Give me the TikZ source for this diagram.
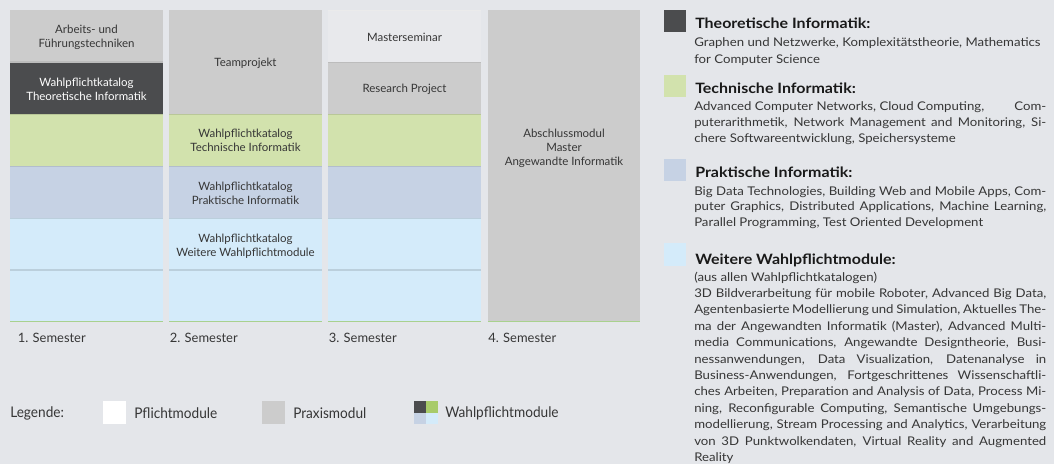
\documentclass[tikz,border=0pt]{standalone}
\usepackage{fontspec}
\setmainfont{Lato}
\newfontfamily\legfont[FakeStretch=0.93]{Lato}
\newfontfamily\bodyfont[FakeStretch=1.1]{Lato}
\newfontfamily\headfont[FakeStretch=1.12]{Lato}
\definecolor{bg}{HTML}{E4E6EA}
\definecolor{praxis}{HTML}{CCCCCC}
\definecolor{theo}{HTML}{4B4C4E}
\definecolor{tech}{HTML}{D2E2AD}
\definecolor{prak}{HTML}{C6D2E4}
\definecolor{weit}{HTML}{D4EBFA}
\definecolor{pflicht}{HTML}{E8E9EC}
\definecolor{txt}{HTML}{363636}
\definecolor{basegreen}{HTML}{A9D18E}
\definecolor{legtech}{HTML}{A8CB6A}
\newlength\jw \setlength\jw{264pt}
\newcommand\jl[1]{\hbox to \jw{#1}}
\newcommand\nl[1]{\hbox{#1}}
\tikzset{
  lbl/.style={font=\fontsize{8.6}{10.5}\selectfont, text=txt, align=center, inner sep=0},
  sem/.style={font=\fontsize{9.7}{11}\selectfont, text=txt, anchor=west, inner sep=0},
  leg/.style={font=\legfont\fontsize{11}{12}\selectfont, text=txt, anchor=west, inner sep=0},
  head/.style={font=\headfont\bfseries\fontsize{10.7}{12}\selectfont, text=black!90, anchor=base west, inner sep=0},
  body/.style={font=\bodyfont\fontsize{9}{12.3}\selectfont, text=txt, anchor=base west, inner sep=0},
  sep/.style={line width=0.8pt},
  base/.style={basegreen, line width=1.2pt}
}
\begin{document}
\begin{tikzpicture}[x=0.75pt,y=-0.75pt]
\useasboundingbox (0,0) rectangle (1054,464);
\fill[bg] (0,0) rectangle (1054,464);
% column 1
\fill[praxis] (10,10) rectangle (163,62);
\fill[theo] (10,62) rectangle (163,114);
\fill[tech] (10,114) rectangle (163,166);
\fill[prak] (10,166) rectangle (163,218);
\fill[weit] (10,218) rectangle (163,322);
% column 2
\fill[praxis] (169,10) rectangle (322,114);
\fill[tech] (169,114) rectangle (322,166);
\fill[prak] (169,166) rectangle (322,218);
\fill[weit] (169,218) rectangle (322,322);
% column 3
\fill[pflicht] (328,10) rectangle (481,62);
\draw[black!8, line width=0.6pt] (328,10) -- (481,10);
\fill[praxis] (328,62) rectangle (481,114);
\fill[tech] (328,114) rectangle (481,166);
\fill[prak] (328,166) rectangle (481,218);
\fill[weit] (328,218) rectangle (481,322);
% column 4
\fill[praxis] (488,10) rectangle (640,322);
% separators
\foreach \a/\b in {10/163,169/322,328/481}{
  \draw[sep, tech!88!black] (\a,114.5) -- (\b,114.5);
  \draw[sep, prak!90!black] (\a,166.5) -- (\b,166.5);
  \draw[sep, weit!88!black] (\a,218.5) -- (\b,218.5);
  \draw[sep, weit!88!black] (\a,270) -- (\b,270);
  \draw[base] (\a,321.5) -- (\b,321.5);
}
\draw[sep, praxis!92!black] (10,62) -- (163,62);
\draw[sep, praxis!92!black] (328,62.5) -- (481,62.5);
\draw[base] (488,321.5) -- (640,321.5);
% cell labels
\node[lbl] (aft) at (86.5,37.5) {Arbeits- und\\Führungstechniken};
\node[lbl, text=white] (wti) at (86.5,89.5) {Wahlpflichtkatalog\\Theoretische Informatik};
\node[lbl] (tp) at (245.5,63.5) {Teamprojekt};
\node[lbl] (wte) at (245.5,140.5) {Wahlpflichtkatalog\\Technische Informatik};
\node[lbl] (wpr) at (245.5,193) {Wahlpflichtkatalog\\Praktische Informatik};
\node[lbl] (wwe) at (245.5,246) {Wahlpflichtkatalog\\Weitere Wahlpflichtmodule};
\node[lbl] (ms) at (404.5,37) {Masterseminar};
\node[lbl] (rp) at (404.5,89.5) {Research Project};
\node[lbl] (am) at (564,148) {Abschlussmodul\\Master\\Angewandte Informatik};
% semesters
\node[sem] (s1) at (17.5,337.5) {1. Semester};
\node[sem] (s2) at (169.5,337.5) {2. Semester};
\node[sem] (s3) at (328.5,337.5) {3. Semester};
\node[sem] (s4) at (488,337.5) {4. Semester};
% legend
\node[leg] (leg) at (10,413) {Legende:};
\fill[white] (103,401) rectangle (126,424);
\node[leg] (lp) at (134,413) {Pflichtmodule};
\fill[praxis] (262,401) rectangle (285,424);
\node[leg] (lx) at (293,413) {Praxismodul};
\fill[theo] (414,401) rectangle (426,412.5);
\fill[legtech] (426,401) rectangle (437.5,412.5);
\fill[prak] (414,412.5) rectangle (426,424);
\fill[weit] (426,412.5) rectangle (437.5,424);
\node[leg] (lw) at (445,413) {Wahlpflichtmodule};
% right panel
\fill[theo] (664,10) rectangle (686,32);
\node[head] (h1) at (695,28.3) {Theoretische Informatik:};
\node[body] (b1) at (694,46.7) {\vtop{\baselineskip=12.3pt
  \nl{Graphen und Netzwerke, Komplexitätstheorie, Mathematics}
  \nl{for Computer Science}}};
\fill[tech] (664,75) rectangle (686,97);
\node[head] (h2) at (695,93.3) {Technische Informatik:};
\node[body] (b2) at (694,110.7) {\vtop{\baselineskip=12pt
  \jl{Advanced Computer Networks, Cloud Computing,\hfill Com-}
  \jl{puterarithmetik, Network Management and Monitoring, Si-}
  \nl{chere Softwareentwicklung, Speichersysteme}}};
\fill[prak] (664,159) rectangle (686,181);
\node[head] (h3) at (695,177.3) {Praktische Informatik:};
\node[body] (b3) at (694,195) {\vtop{\baselineskip=11.9pt
  \jl{Big Data Technologies, Building Web and Mobile Apps, Com-}
  \jl{puter Graphics, Distributed Applications, Machine Learning,}
  \nl{Parallel Programming, Test Oriented Development}}};
\fill[weit] (664,243.3) rectangle (686,265.7);
\node[head] (h4) at (695,264.3) {Weitere Wahlpflichtmodule:};
\node[body] (b4) at (694,281) {\vtop{\baselineskip=12.3pt
  \nl{(aus allen Wahlpflichtkatalogen)}
  \jl{3D Bildverarbeitung für mobile Roboter, Advanced Big Data,}
  \jl{Agentenbasierte Modellierung und Simulation, Aktuelles The-}
  \jl{ma der Angewandten Informatik (Master), Advanced Multi-}
  \jl{media Communications, Angewandte Designtheorie, Busi-}
  \jl{nessanwendungen, Data Visualization, Datenanalyse in}
  \jl{Business-Anwendungen, Fortgeschrittenes Wissenschaftli-}
  \jl{ches Arbeiten, Preparation and Analysis of Data, Process Mi-}
  \jl{ning, Reconfigurable Computing, Semantische Umgebungs-}
  \jl{modellierung, Stream Processing and Analytics, Verarbeitung}
  \jl{von 3D Punktwolkendaten, Virtual Reality and Augmented}
  \nl{Reality}}};
\end{tikzpicture}
\end{document}
